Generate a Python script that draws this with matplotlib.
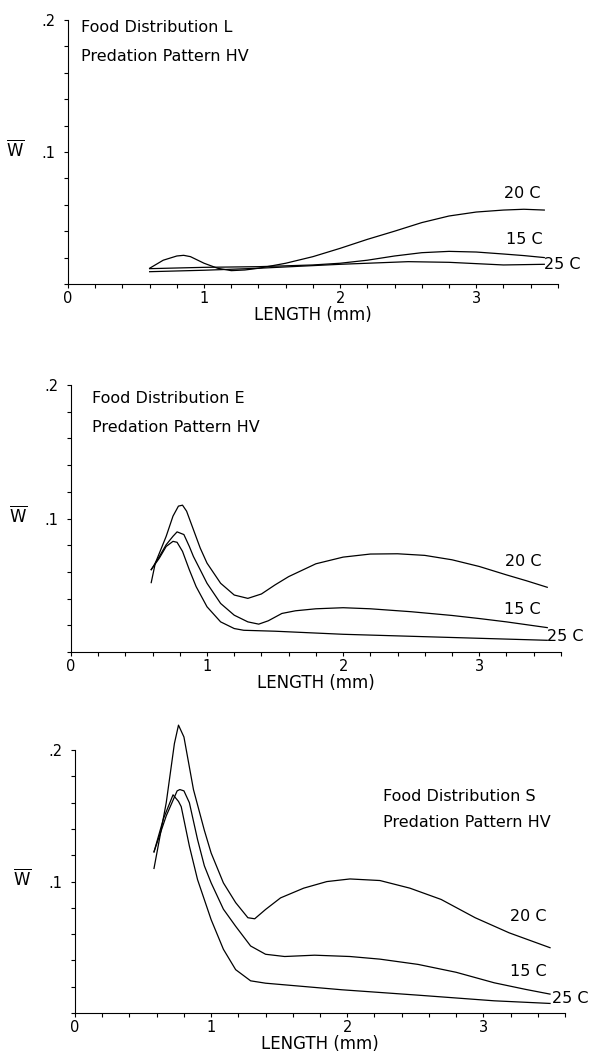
import numpy as np
import matplotlib.pyplot as plt
from matplotlib.ticker import MultipleLocator, FixedLocator

# panel L
len_L_20 = [0.6, 0.7, 0.8, 0.85, 0.9, 1.0, 1.1, 1.2, 1.3, 1.4, 1.6, 1.8, 2.0, 2.2, 2.4, 2.6, 2.8, 3.0, 3.2, 3.35, 3.5]
w_L_20 = [0.0119, 0.018, 0.0212, 0.0217, 0.0207, 0.0157, 0.0119, 0.0101, 0.0106, 0.0119, 0.0157, 0.0207,
          0.027, 0.0338, 0.040, 0.0465, 0.0515, 0.0545, 0.056, 0.0566, 0.056]
len_L_15 = [0.6, 1.0, 1.4, 1.8, 2.0, 2.2, 2.4, 2.6, 2.8, 3.0, 3.2, 3.35, 3.5]
w_L_15 = [0.0116, 0.0126, 0.0131, 0.0144, 0.0157, 0.018, 0.0212, 0.0237, 0.0247, 0.0242, 0.0227, 0.0215, 0.020]
len_L_25 = [0.6, 1.0, 1.4, 1.8, 2.0, 2.2, 2.5, 2.8, 3.0, 3.2, 3.5]
w_L_25 = [0.0093, 0.0104, 0.0119, 0.0139, 0.0149, 0.0157, 0.0169, 0.0164, 0.0154, 0.0144, 0.0149]

# panel E
len_E_20 = [0.59, 0.62, 0.66, 0.7, 0.75, 0.79, 0.82, 0.85, 0.9, 0.95, 1.0, 1.1, 1.2, 1.3, 1.4, 1.5, 1.6,
            1.8, 2.0, 2.2, 2.4, 2.6, 2.8, 3.0, 3.2, 3.35, 3.5]
w_E_20 = [0.052, 0.0666, 0.0766, 0.0867, 0.1018, 0.1093, 0.110, 0.1055, 0.0917, 0.0779, 0.0666, 0.0515,
          0.0427, 0.0402, 0.0435, 0.0503, 0.0565, 0.0661, 0.0711, 0.0734, 0.0736, 0.0724, 0.0691, 0.0641,
          0.0578, 0.0533, 0.0485]
len_E_15 = [0.59, 0.65, 0.7, 0.75, 0.78, 0.83, 0.87, 0.9, 0.95, 1.0, 1.1, 1.2, 1.3, 1.38, 1.45, 1.55, 1.65,
            1.8, 2.0, 2.2, 2.5, 2.8, 3.0, 3.2, 3.5]
w_E_15 = [0.0617, 0.0716, 0.0804, 0.0867, 0.090, 0.088, 0.0791, 0.0716, 0.0616, 0.0515, 0.0364, 0.0276,
          0.0226, 0.0209, 0.0234, 0.0289, 0.0309, 0.0324, 0.0332, 0.0324, 0.0302, 0.0274, 0.0251, 0.0226, 0.0183]
len_E_25 = [0.59, 0.65, 0.7, 0.75, 0.78, 0.82, 0.87, 0.92, 1.0, 1.1, 1.2, 1.27, 1.5, 2.0, 2.5, 3.0, 3.5]
w_E_25 = [0.0617, 0.0704, 0.0791, 0.0829, 0.0822, 0.0754, 0.0616, 0.049, 0.0339, 0.0226, 0.0176, 0.0163,
          0.0156, 0.0133, 0.0118, 0.0103, 0.0088]

# panel S
len_S_20 = [0.58, 0.67, 0.73, 0.76, 0.8, 0.87, 0.95, 1.0, 1.09, 1.18, 1.27, 1.32, 1.40, 1.51, 1.68, 1.85,
            2.02, 2.24, 2.46, 2.69, 2.94, 3.19, 3.49]
w_S_20 = [0.110, 0.160, 0.205, 0.219, 0.210, 0.170, 0.139, 0.1217, 0.099, 0.084, 0.0725, 0.0717, 0.0788,
          0.0876, 0.095, 0.100, 0.102, 0.1008, 0.095, 0.0864, 0.0725, 0.061, 0.0497]
len_S_15 = [0.58, 0.67, 0.75, 0.77, 0.8, 0.84, 0.90, 0.95, 1.0, 1.09, 1.18, 1.29, 1.40, 1.54, 1.76, 2.02,
            2.24, 2.52, 2.80, 3.08, 3.31, 3.49]
w_S_15 = [0.1226, 0.150, 0.169, 0.170, 0.169, 0.160, 0.132, 0.112, 0.099, 0.079, 0.066, 0.051, 0.0447,
          0.043, 0.044, 0.043, 0.041, 0.037, 0.031, 0.023, 0.018, 0.0144]
len_S_25 = [0.58, 0.65, 0.72, 0.76, 0.78, 0.84, 0.90, 1.0, 1.09, 1.18, 1.29, 1.40, 1.96, 2.52, 3.08, 3.49]
w_S_25 = [0.1226, 0.148, 0.166, 0.161, 0.157, 0.127, 0.1015, 0.071, 0.0485, 0.033, 0.0245, 0.0227,
          0.0177, 0.0136, 0.0093, 0.0073]

temps = ['20 C', '15 C', '25 C']

panels = [
    dict(rect=[0.115, 0.7316, 0.829, 0.2495],
         series=[(len_L_20, w_L_20), (len_L_15, w_L_15), (len_L_25, w_L_25)],
         labels=[(3.34, 0.0684), (3.35, 0.0338), (3.63, 0.015)],
         text=['Food Distribution L', 'Predation Pattern HV'], tpos=[(0.096, 0.194), (0.096, 0.172)]),
    dict(rect=[0.120, 0.3837, 0.829, 0.2524],
         series=[(len_E_20, w_E_20), (len_E_15, w_E_15), (len_E_25, w_E_25)],
         labels=[(3.32, 0.0677), (3.32, 0.0316), (3.63, 0.012)],
         text=['Food Distribution E', 'Predation Pattern HV'], tpos=[(0.154, 0.190), (0.154, 0.168)]),
    dict(rect=[0.127, 0.0425, 0.829, 0.2485],
         series=[(len_S_20, w_S_20), (len_S_15, w_S_15), (len_S_25, w_S_25)],
         labels=[(3.33, 0.0737), (3.33, 0.0318), (3.64, 0.0113)],
         text=['Food Distribution S', 'Predation Pattern HV'], tpos=[(2.26, 0.1647), (2.26, 0.145)]),
]

fig = plt.figure(figsize=(5.91, 10.58), dpi=100)

for p in panels:
    ax = fig.add_axes(p['rect'])
    for (xs, ys) in p['series']:
        ax.plot(xs, ys, color='black', lw=0.9, clip_on=False)
    for name, (lx, ly) in zip(temps, p['labels']):
        ax.text(lx, ly, name, ha='center', va='center', fontsize=11.5)
    for t, (tx, ty) in zip(p['text'], p['tpos']):
        ax.text(tx, ty, t, ha='left', va='center', fontsize=11.5)

    ax.set_xlim(0, 3.6)
    ax.set_ylim(0, 0.2)
    ax.spines['top'].set_visible(False)
    ax.spines['right'].set_visible(False)
    ax.xaxis.set_major_locator(FixedLocator([0, 1, 2, 3]))
    ax.xaxis.set_minor_locator(MultipleLocator(0.2))
    ax.set_xticklabels(['0', '1', '2', '3'])
    ax.yaxis.set_major_locator(FixedLocator([0.1, 0.2]))
    ax.yaxis.set_minor_locator(MultipleLocator(0.02))
    ax.set_yticklabels(['.1', '.2'])
    ax.tick_params(which='both', direction='out', length=3, width=0.8, labelsize=10.5)
    ax.tick_params(axis='x', pad=2)
    ax.tick_params(axis='y', pad=6)
    ax.set_xlabel('LENGTH (mm)', fontsize=12, labelpad=0)
    ax.text(-0.108, 0.51, r'$\overline{\mathrm{W}}$', transform=ax.transAxes,
            ha='center', va='center', fontsize=12)

fig.savefig('out.png', dpi=100)
